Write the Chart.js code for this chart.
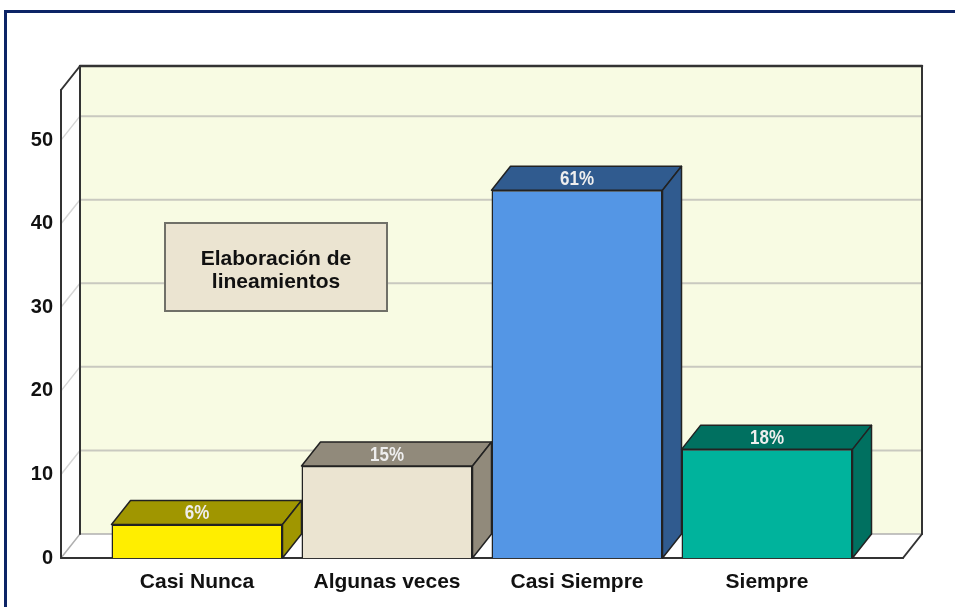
<!DOCTYPE html>
<html>
<head>
<meta charset="utf-8">
<script src="https://cdn.jsdelivr.net/npm/chart.js@4"></script>
<style>
  html, body { margin: 0; padding: 0; background: #fff; overflow: hidden; }
  #frame { position: absolute; left: 4px; top: 10px; width: 1000px; height: 700px; border: 3px solid #0c2466; }
  #wrap { position: absolute; left: 0; top: 0; width: 955px; height: 607px; }
</style>
</head>
<body>
<div id="frame"></div>
<div id="wrap"><canvas id="chart" width="955" height="607"></canvas></div>
<script>
var categories = ['Casi Nunca', 'Algunas veces', 'Casi Siempre', 'Siempre'];
var counts = [4, 11, 44, 13];
var percentLabels = ['6%', '15%', '61%', '18%'];
var yTicks = [0, 10, 20, 30, 40, 50];
var boxTitle = ['Elaboración de', 'lineamientos'];

var frontColors = ['#ffee00', '#ebe4d1', '#5496e5', '#00b39c'];
var shadeColors = ['#a09600', '#918a7b', '#305b8f', '#007060'];

var FONT = '"Liberation Sans", Arial, sans-serif';
// depth of the 3d box and how far the floor reaches past the categories
var DX = 19, DY = 24, EXT = 41;

function seg(ctx, x1, y1, x2, y2) {
    ctx.beginPath();
    ctx.moveTo(x1, y1);
    ctx.lineTo(x2, y2);
    ctx.stroke();
}

function poly(ctx, pts, fill) {
    ctx.beginPath();
    ctx.moveTo(pts[0][0], pts[0][1]);
    for (var i = 1; i < pts.length; i++) ctx.lineTo(pts[i][0], pts[i][1]);
    ctx.closePath();
    ctx.fillStyle = fill;
    ctx.fill();
    ctx.stroke();
}

var box3d = {
    id: 'box3d',
    beforeDatasetsDraw: function (chart) {
        var ctx = chart.ctx, a = chart.chartArea, ys = chart.scales.y;
        var L = a.left - EXT, R = a.right + EXT, T = a.top, B = a.bottom;
        ctx.save();
        ctx.lineCap = 'round';

        // back wall
        ctx.fillStyle = '#f8fbe3';
        ctx.fillRect(L + DX, T - DY, R - L, B - T);

        // grid lines on back wall + slants on the side wall
        yTicks.forEach(function (v) {
            if (v === 0) return;
            var py = ys.getPixelForValue(v);
            ctx.strokeStyle = '#c9c9c0';
            ctx.lineWidth = 2;
            seg(ctx, L + DX, py - DY, R + DX, py - DY);
            ctx.strokeStyle = '#d6d6d6';
            ctx.lineWidth = 1.5;
            seg(ctx, L, py, L + DX, py - DY);
        });

        // floor edges
        ctx.strokeStyle = '#b0b0b0';
        ctx.lineWidth = 1.5;
        seg(ctx, L + DX, B - DY, R + DX, B - DY);
        seg(ctx, L, B, L + DX, B - DY);
        ctx.strokeStyle = '#333';
        ctx.lineWidth = 2;
        seg(ctx, R, B, R + DX, B - DY);
        seg(ctx, L, B, R, B);

        // back wall and side wall outline
        ctx.lineWidth = 2.5;
        seg(ctx, L + DX, T - DY, R + DX, T - DY);
        ctx.lineWidth = 2;
        seg(ctx, R + DX, T - DY, R + DX, B - DY);
        seg(ctx, L + DX, T - DY, L + DX, B - DY);
        seg(ctx, L, T, L + DX, T - DY);
        seg(ctx, L, T, L, B);

        // title box
        var bx = 165, by = 223, bw = 222, bh = 88;
        ctx.fillStyle = '#ebe4d1';
        ctx.fillRect(bx, by, bw, bh);
        ctx.strokeStyle = '#707068';
        ctx.lineWidth = 2;
        ctx.strokeRect(bx, by, bw, bh);
        ctx.fillStyle = '#111';
        ctx.font = 'bold 21px ' + FONT;
        ctx.textAlign = 'center';
        ctx.textBaseline = 'middle';
        ctx.fillText(boxTitle[0], bx + bw / 2, by + 36);
        ctx.fillText(boxTitle[1], bx + bw / 2, by + 59);
        ctx.restore();
    },
    afterDatasetsDraw: function (chart) {
        var ctx = chart.ctx;
        var bars = chart.getDatasetMeta(0).data;
        ctx.save();
        ctx.strokeStyle = '#222';
        ctx.lineWidth = 1.5;
        ctx.lineJoin = 'round';
        bars.forEach(function (bar, i) {
            var x0 = bar.x - bar.width / 2, x1 = bar.x + bar.width / 2;
            var top = bar.y, base = bar.base;
            poly(ctx, [[x0, top], [x0 + DX, top - DY], [x1 + DX, top - DY], [x1, top]], shadeColors[i]);
            poly(ctx, [[x1, top], [x1 + DX, top - DY], [x1 + DX, base - DY], [x1, base]], shadeColors[i]);

            ctx.save();
            ctx.translate(bar.x, top - DY / 2 + 1);
            ctx.scale(0.85, 1);
            ctx.fillStyle = '#eeeeee';
            ctx.font = 'bold 20px ' + FONT;
            ctx.textAlign = 'center';
            ctx.textBaseline = 'middle';
            ctx.fillText(percentLabels[i], 0, 0);
            ctx.restore();
        });
        ctx.restore();
    }
};

var ctx = document.getElementById('chart').getContext('2d');
var chart = new Chart(ctx, {
    type: 'bar',
    data: {
        labels: categories,
        datasets: [{
            data: counts,
            backgroundColor: frontColors,
            borderColor: '#222',
            borderWidth: 1.5,
            barPercentage: 0.9,
            categoryPercentage: 1
        }]
    },
    options: {
        responsive: false,
        animation: false,
        layout: { padding: { top: 90, right: 93, left: 0, bottom: 0 } },
        plugins: {
            legend: { display: false },
            tooltip: { enabled: false }
        },
        scales: {
            x: {
                grid: { display: false, drawTicks: false },
                border: { display: false },
                ticks: { color: '#111', padding: 12, font: { family: FONT, size: 21, weight: 'bold' } },
                afterFit: function (s) { s.height = 49; }
            },
            y: {
                min: 0,
                max: 56,
                grid: { display: false, drawTicks: false },
                border: { display: false },
                ticks: { color: '#111', padding: 49, font: { family: FONT, size: 20, weight: 'bold' } },
                afterBuildTicks: function (s) {
                    s.ticks = yTicks.map(function (v) { return { value: v }; });
                },
                afterFit: function (s) {
                    s.width = 102;
                    s.paddingTop = 0;
                    s.paddingBottom = 0;
                }
            }
        }
    },
    plugins: [box3d]
});
</script>
</body>
</html>
